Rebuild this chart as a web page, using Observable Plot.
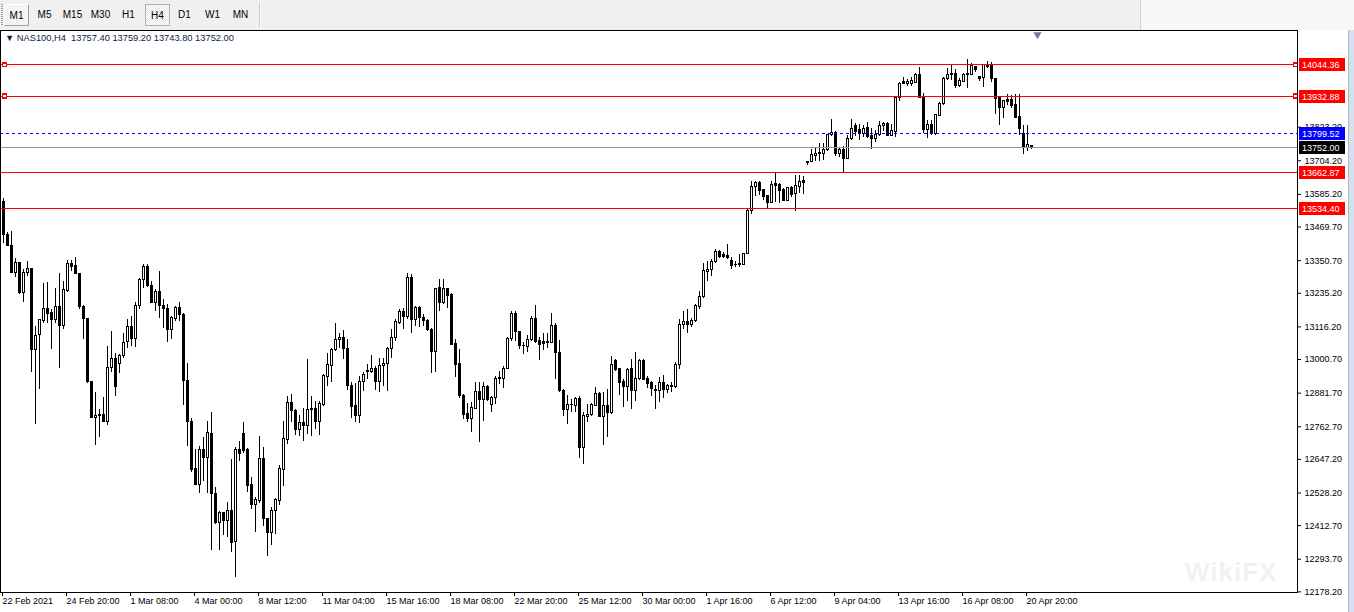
<!DOCTYPE html>
<html><head><meta charset="utf-8">
<script src="https://cdn.jsdelivr.net/npm/d3@7"></script>
<script src="https://cdn.jsdelivr.net/npm/@observablehq/plot@0.6"></script>
<style>
html,body{margin:0;padding:0;background:#fff;width:1354px;height:612px;overflow:hidden;font-family:"Liberation Sans",Arial,sans-serif;}
#wrap{position:relative;width:1354px;height:612px;}
#toolbar{position:absolute;left:0;top:0;width:1354px;height:30px;background:#f0f0f0;}
#toolbar .grip{position:absolute;left:1px;top:4px;width:2px;height:22px;background:repeating-linear-gradient(#a0a0a0 0 1px,transparent 1px 2px);}
#toolbar .btn{position:absolute;top:4px;width:25px;height:22px;font-size:10px;line-height:22px;text-align:center;color:#000;box-sizing:border-box;}
#toolbar .up{border-top:1px solid #fff;border-left:1px solid #fff;border-right:1px solid #a0a0a0;border-bottom:1px solid #a0a0a0;background:#f4f4f4;}
#toolbar .checked{border:1px solid #b0b0b0;background:repeating-conic-gradient(#ffffff 0 25%,#e8e8e8 0 50%) 0 0/2px 2px;}
#toolbar .sep{position:absolute;left:259px;top:3px;width:1px;height:24px;background:#c8c8c8;border-right:1px solid #fff;}
#toolbar .end{position:absolute;left:1140px;top:0;width:214px;height:30px;background:#f7f7f7;border-left:1px solid #d0d0d0;}
#chart{position:absolute;left:0;top:30px;}
#header{position:absolute;left:5px;top:33px;font-size:9.3px;color:#0c1a48;white-space:pre;font-family:"Liberation Sans",Arial,sans-serif;}
#strip{position:absolute;left:1348px;top:30px;width:6px;height:582px;background:#d4e0ee;border-left:1px solid #aab9cc;}
#wm{position:absolute;left:1185px;top:557px;font-size:26px;font-weight:bold;color:#f1f1f1;letter-spacing:1px;}
</style></head>
<body><div id="wrap">
<div id="toolbar">
  <div class="grip"></div>
  <div class="btn up" style="left:4px">M1</div>
  <div class="btn" style="left:32px">M5</div>
  <div class="btn" style="left:60px">M15</div>
  <div class="btn" style="left:88px">M30</div>
  <div class="btn" style="left:116px">H1</div>
  <div class="btn checked" style="left:145px">H4</div>
  <div class="btn" style="left:172px">D1</div>
  <div class="btn" style="left:200px">W1</div>
  <div class="btn" style="left:228px">MN</div>
  <div class="sep"></div>
  <div class="end"></div>
</div>
<div id="chart"></div>
<div id="wm">WikiFX</div>
<div id="header">▼ NAS100,H4  13757.40 13759.20 13743.80 13752.00</div>
<div id="strip"></div>
</div>
<script>
// ---- data (NAS100, H4 candles) ----
const openP = [13559.2,13441.4,13402.6,13308.4,13341.4,13237.8,13306.1,13320.2,13032.9,13087.1,13135.3,13178.9,13164.8,13141.2,13186.0,13117.7,13244.8,13339.0,13332.0,13303.7,13186.0,13143.6,12922.3,12793.9,12805.7,12805.7,12778.6,12970.5,13002.3,12985.8,13011.7,13061.2,13115.3,13073.0,13188.4,13282.5,13327.3,13261.4,13200.1,13239.0,13190.7,13178.9,13103.6,13143.6,13182.5,13158.9,12925.8,12778.7,12611.5,12557.3,12682.1,12651.5,12738.6,12525.5,12420.8,12456.1,12429.0,12465.5,12354.8,12682.1,12738.6,12682.1,12555.0,12484.3,12499.6,12649.2,12437.3,12387.8,12464.3,12499.7,12609.1,12717.5,12847.0,12819.9,12750.4,12776.3,12764.5,12825.8,12825.8,12778.7,12841.1,12938.8,12978.8,13033.0,13068.3,13076.5,13037.7,12905.8,12835.2,12802.2,12920.0,12955.3,12955.3,12967.0,12920.0,12976.5,12984.7,13037.7,13075.4,13129.5,13168.4,13150.7,13288.4,13138.9,13182.5,13147.2,13137.8,13106.0,13025.9,13253.1,13202.5,13249.6,13229.6,13056.5,12985.9,12872.9,12809.3,12791.6,12826.9,12885.8,12856.4,12903.5,12838.7,12864.6,12931.7,12931.7,12967.0,13073.0,13162.5,13096.5,13049.5,13044.7,13068.3,13144.8,13064.7,13061.2,13057.7,13058.9,13120.1,13023.5,12888.1,12821.0,12841.1,12837.5,12861.1,12688.0,12797.5,12805.7,12837.5,12878.7,12797.5,12837.5,12811.6,12996.5,12967.0,12919.9,12903.4,12967.0,12888.1,12931.7,12996.5,12931.7,12917.6,12894.1,12888.2,12917.6,12891.7,12908.2,12903.5,12980.0,13123.7,13133.1,13121.3,13135.4,13186.1,13221.4,13312.0,13317.9,13345.0,13382.7,13370.9,13367.4,13350.9,13336.7,13336.7,13335.6,13374.4,13527.5,13609.9,13624.0,13600.5,13579.3,13555.7,13620.5,13618.1,13600.5,13562.8,13608.7,13586.3,13612.2,13632.2,13695.8,13698.2,13721.7,13727.6,13730.0,13741.7,13794.7,13802.9,13727.6,13741.7,13712.3,13782.9,13826.5,13812.4,13800.6,13820.6,13791.2,13782.9,13794.7,13826.5,13835.9,13791.2,13806.5,13927.7,13983.1,13974.8,13977.2,13980.7,14006.6,13930.0,13812.3,13832.3,13798.2,13862.9,13906.5,13992.4,14010.1,14010.1,13968.9,13983.0,14010.1,14008.9,14036.0,14000.7,13997.1,14041.9,14038.3,13994.8,13926.5,13891.2,13918.3,13918.3,13900.6,13859.4,13800.5,13749.9,13757.4];
const highP = [13570.9,13449.7,13453.2,13359.0,13343.7,13320.2,13346.1,13322.5,13117.7,13143.6,13268.4,13273.1,13176.6,13253.1,13303.7,13276.6,13350.8,13349.6,13362.6,13306.1,13190.7,13147.1,12923.4,12882.2,12823.4,12864.6,13047.0,13100.0,13023.5,13017.6,13094.1,13141.2,13153.0,13202.5,13288.4,13335.5,13335.5,13276.7,13247.2,13310.8,13211.9,13194.2,13153.0,13188.4,13202.5,13164.8,12985.9,12790.4,12682.1,12691.5,12723.3,12782.2,12811.6,12546.7,12464.3,12458.4,12496.1,12646.8,12688.0,12711.5,12776.3,12684.0,12582.0,12511.4,12726.9,12688.0,12437.3,12476.1,12507.9,12625.6,12779.9,12870.5,12876.4,12823.4,12802.2,12825.8,13000.0,12870.5,12852.8,12852.8,12947.0,13021.2,13041.2,13127.2,13094.2,13103.6,13073.0,12917.6,12915.2,12941.1,12955.3,12982.4,13016.5,12976.5,13005.9,13005.9,13044.7,13108.3,13141.3,13176.6,13182.5,13303.8,13300.2,13188.4,13188.4,13158.9,13143.6,13111.9,13253.1,13284.9,13282.6,13253.1,13235.5,13070.6,13035.3,12876.4,12844.6,12847.0,12920.0,12920.0,12920.0,12908.2,12870.5,12941.1,12958.8,12976.5,13080.1,13170.7,13170.7,13100.1,13061.2,13084.8,13153.0,13190.7,13080.0,13091.8,13091.8,13162.5,13127.1,13068.3,12894.0,12872.8,12858.7,12864.6,12868.1,12811.6,12841.1,12844.6,12899.9,12884.6,12884.6,12894.0,13011.8,13000.0,12970.6,12931.7,12970.6,13000.0,13025.9,13002.3,13002.3,12941.1,12923.5,12908.2,12935.3,12943.5,12911.7,12917.6,12990.6,13141.3,13170.7,13176.6,13147.2,13194.3,13241.4,13339.1,13347.3,13353.2,13390.9,13386.2,13379.1,13406.2,13362.6,13347.3,13370.9,13376.8,13532.2,13629.9,13629.9,13629.9,13602.8,13582.8,13629.9,13661.7,13624.0,13606.3,13609.9,13614.6,13653.4,13653.4,13647.5,13702.9,13744.1,13751.1,13765.3,13765.3,13798.2,13850.0,13806.5,13747.6,13755.9,13794.7,13850.0,13835.9,13833.6,13830.0,13838.3,13818.3,13810.0,13841.8,13838.3,13838.3,13833.6,13932.5,13983.1,14000.7,13991.3,14000.7,14012.4,14036.0,13941.8,13847.6,13847.6,13867.6,13908.8,14000.7,14032.5,14041.9,14027.8,13994.8,14012.4,14063.1,14047.8,14039.5,14004.2,14044.2,14056.0,14051.3,13997.1,13930.0,13918.3,13938.3,13935.9,13938.3,13938.3,13830.0,13827.6,13759.2];
const lowP = [13412.0,13400.2,13306.1,13291.9,13229.5,13202.5,13294.3,12955.2,12770.4,12894.0,13129.5,13129.5,13035.3,13129.5,12970.5,13105.9,13237.8,13311.9,13300.2,13176.6,13070.6,12917.5,12790.4,12695.0,12723.3,12776.3,12766.9,12955.2,12868.1,12952.9,13005.8,13041.2,13047.0,13044.7,13178.9,13253.1,13256.6,13197.8,13170.7,13147.2,13111.8,13061.2,13073.0,13135.4,13135.4,12837.5,12693.9,12602.1,12555.0,12526.7,12570.3,12526.7,12323.0,12417.2,12323.0,12378.4,12370.1,12317.2,12228.9,12640.9,12668.0,12529.1,12470.2,12390.1,12491.4,12411.3,12301.9,12340.7,12381.9,12484.4,12552.6,12699.8,12778.7,12731.6,12729.2,12711.6,12735.1,12729.2,12752.8,12731.6,12832.8,12903.5,12920.0,13029.4,13041.2,13002.4,12891.7,12792.8,12778.7,12774.0,12888.2,12931.7,12950.6,12891.7,12882.3,12905.8,12888.2,13005.9,13064.8,13123.6,13106.0,13141.3,13094.2,13117.7,13115.4,13117.7,13100.1,12952.9,12955.3,13170.7,13194.3,13182.5,13049.5,12935.3,12861.1,12788.1,12778.7,12741.0,12823.4,12708.0,12782.2,12852.8,12814.0,12841.1,12911.7,12896.4,12964.7,13064.8,13064.8,13037.7,13017.7,13025.9,13064.7,13058.9,12997.6,13033.0,13041.2,13056.5,12931.7,12884.6,12799.8,12770.4,12814.0,12814.0,12649.2,12629.1,12776.3,12799.8,12835.2,12794.0,12696.2,12723.3,12805.7,12958.8,12872.8,12829.3,12852.8,12823.4,12852.8,12927.0,12927.0,12896.4,12868.1,12823.4,12847.0,12861.1,12880.0,12882.3,12896.4,12964.7,13106.0,13091.9,13115.4,13131.9,13179.0,13217.8,13276.7,13294.4,13341.5,13359.1,13359.1,13355.6,13317.9,13327.3,13327.3,13332.0,13370.9,13515.7,13576.9,13582.8,13565.1,13535.7,13553.4,13555.7,13553.4,13559.3,13559.2,13574.6,13523.9,13588.7,13586.3,13688.8,13697.0,13700.5,13700.5,13706.4,13735.8,13791.2,13720.5,13715.8,13659.3,13708.8,13777.0,13791.2,13777.0,13786.5,13782.9,13744.1,13767.6,13788.8,13806.5,13788.8,13788.8,13786.5,13912.4,13974.8,13967.8,13967.8,13977.1,13924.2,13800.5,13782.9,13794.6,13794.6,13859.4,13900.6,13988.9,13988.9,13961.8,13965.4,13983.0,13959.5,14006.6,14018.3,13985.4,13965.4,14032.5,13983.0,13867.6,13827.6,13853.5,13900.6,13888.8,13853.5,13792.3,13726.4,13735.8,13743.8];
const closeP = [13441.4,13402.6,13308.4,13341.4,13235.4,13306.1,13320.2,13032.9,13084.7,13141.2,13178.9,13162.4,13141.2,13186.0,13117.7,13247.2,13339.0,13329.6,13303.7,13186.0,13143.6,12919.9,12793.9,12802.2,12799.8,12779.8,12970.5,13002.3,12903.4,13014.1,13058.8,13115.3,13073.0,13190.7,13282.5,13327.3,13261.4,13200.1,13239.0,13188.4,13178.9,13103.6,13147.2,13182.5,13158.9,12923.5,12778.7,12609.1,12557.3,12682.1,12651.5,12741.0,12525.5,12420.8,12456.1,12429.0,12465.5,12352.5,12682.1,12668.0,12678.6,12552.6,12484.3,12503.2,12649.2,12437.2,12387.8,12464.3,12503.2,12611.5,12719.8,12847.0,12817.5,12750.4,12776.3,12764.5,12823.4,12821.1,12778.7,12844.6,12941.1,12981.2,13033.0,13070.6,13076.5,13037.7,12905.8,12831.7,12799.9,12920.0,12947.0,12961.2,12967.0,12920.0,12976.5,12985.9,13037.7,13076.5,13131.9,13168.4,13150.7,13288.4,13138.9,13182.5,13147.2,13135.4,13103.6,13025.9,13249.6,13202.5,13249.6,13227.2,13053.0,12982.4,12870.5,12805.8,12791.6,12829.3,12885.8,12856.4,12903.5,12858.7,12864.6,12931.7,12934.1,12967.0,13073.0,13162.5,13096.5,13047.1,13048.5,13068.3,13144.8,13061.2,13053.0,13055.3,13061.2,13120.1,13023.5,12888.1,12821.0,12841.1,12840.0,12861.1,12688.0,12802.2,12805.7,12841.1,12878.7,12797.5,12837.5,12811.6,12982.3,12964.7,12917.6,12903.4,12964.7,12888.1,12931.7,12996.5,12929.3,12915.2,12896.4,12888.2,12917.6,12891.7,12908.2,12903.5,12982.4,13123.7,13133.1,13121.3,13137.8,13188.4,13221.4,13314.4,13317.9,13347.3,13382.7,13365.0,13365.0,13361.5,13332.0,13334.3,13339.1,13373.2,13527.5,13609.9,13624.0,13598.1,13576.9,13555.7,13618.1,13615.8,13598.1,13562.8,13606.3,13582.8,13614.6,13627.5,13626.4,13698.2,13726.4,13730.0,13732.3,13744.1,13794.7,13802.9,13727.6,13741.7,13712.3,13782.9,13818.3,13806.5,13800.6,13818.3,13788.8,13782.9,13794.7,13826.5,13833.6,13791.2,13808.8,13927.7,13977.2,13977.2,13983.1,13985.4,14006.6,13926.5,13812.3,13832.3,13798.2,13865.3,13906.5,13992.4,14006.6,14006.6,13968.9,13985.4,14006.6,14006.6,14038.3,14024.2,13994.8,14041.9,14036.0,13992.4,13924.2,13891.2,13914.7,13912.4,13898.2,13855.9,13815.8,13749.9,13759.3,13752.0];

const redLevels = [14044.36, 13932.88, 13662.87, 13534.40];
const markedLevels = [14044.36, 13932.88];
const askLevel = 13799.52;
const bidLevel = 13752.00;
const priceTicks = [13823.20, 13704.20, 13585.20, 13469.70, 13350.70, 13235.20, 13116.20, 13000.70, 12881.70, 12762.70, 12647.20, 12528.20, 12412.70, 12293.70, 12178.20];
const timeTickBars = [0, 16, 32, 48, 64, 80, 96, 112, 128, 144, 160, 176, 192, 208, 224, 240, 256];
const timeLabels = ["22 Feb 2021","24 Feb 20:00","1 Mar 08:00","4 Mar 00:00","8 Mar 12:00","11 Mar 04:00","15 Mar 16:00","18 Mar 08:00","22 Mar 20:00","25 Mar 12:00","30 Mar 00:00","1 Apr 16:00","6 Apr 12:00","9 Apr 04:00","13 Apr 16:00","16 Apr 08:00","20 Apr 20:00"];

// ---- build ----
const bars = openP.map((o, i) => ({i, o, h: highP[i], l: lowP[i], c: closeP[i]}));
const font = '"Liberation Sans", Arial, sans-serif';
const crisp = {shapeRendering: "crispEdges"};

const chart = Plot.plot({
  width: 1354, height: 582,
  marginTop: 0, marginBottom: 20, marginLeft: 0, marginRight: 57,
  x: {type: "linear", domain: [-0.75, 323.5]},
  y: {type: "linear", domain: [12175.95, 14165.43]},
  style: {fontFamily: font, fontSize: "9px", color: "#000", background: "white", overflow: "visible"},
  marks: [
    Plot.ruleX(bars, {x: "i", y1: "l", y2: "h", stroke: "#000", ...crisp}),
    Plot.rect(bars, {x1: d => d.i - 0.25, x2: d => d.i + 0.25, y1: "o", y2: "c",
      fill: d => d.c >= d.o ? "#fff" : "#000", stroke: "#000", ...crisp}),
    Plot.ruleY([bidLevel], {stroke: "#8a96a3", ...crisp}),
    Plot.ruleY([askLevel], {stroke: "#0000ff", strokeDasharray: "3,3", ...crisp}),
    Plot.ruleY(redLevels, {stroke: "#ff0000", ...crisp}),
    Plot.dot(markedLevels, {y: d => d, frameAnchor: "left", dx: 4, symbol: "square", r: 2.2, stroke: "#ff0000", fill: "#fff", ...crisp}),
    Plot.dot(markedLevels, {y: d => d, frameAnchor: "right", dx: -2, symbol: "square", r: 2.2, stroke: "#ff0000", fill: "#fff", ...crisp}),
    Plot.dot([bars.length + 0.5], {x: d => d, frameAnchor: "top", dy: 4, symbol: "triangle", rotate: 180, r: 3, fill: "#6d7f95", stroke: "none"}),
    Plot.frame({stroke: "#000", ...crisp}),
    Plot.axisY(priceTicks, {anchor: "right", tickSize: 3, tickPadding: 4, label: null,
      tickFormat: d => d.toFixed(2), fontSize: 9, fontFamily: font}),
    Plot.axisX(timeTickBars, {anchor: "bottom", tickSize: 4, tickPadding: 1, label: null,
      tickFormat: d => timeLabels[timeTickBars.indexOf(d)], textAnchor: "start", dx: -1, fontSize: 9, fontFamily: font})
  ]
});
document.getElementById("chart").appendChild(chart);

// price tags on the right axis, placed with the plot's own y scale
const yS = chart.scale("y");
const xRange = chart.scale("x").range;
const tags = [
  ...redLevels.map(v => ({v, bg: "#ff0000", fg: "#fff"})),
  {v: askLevel, bg: "#0000ff", fg: "#fff"},
  {v: bidLevel, bg: "#000000", fg: "#fff"}
];
const g = d3.select(chart).append("g").attr("class", "tags").attr("text-anchor", "start");
for (const t of tags) {
  const yy = Math.round(yS.apply(t.v));
  g.append("rect").attr("x", xRange[1] + 2).attr("y", yy - 6).attr("width", 46).attr("height", 13).attr("fill", t.bg);
  g.append("text").attr("x", xRange[1] + 5).attr("y", yy + 0.5).attr("dy", "0.35em")
    .attr("text-anchor", "start")
    .attr("fill", t.fg).attr("font-size", 9).attr("font-family", font)
    .text(t.v.toFixed(2));
}
</script>
</body></html>
